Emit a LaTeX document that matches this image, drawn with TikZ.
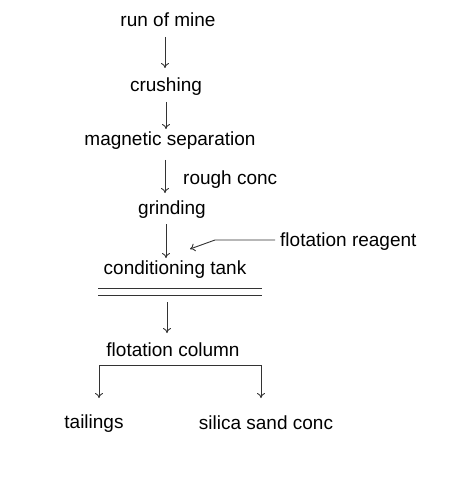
\documentclass[tikz,border=0pt]{standalone}
\usepackage{fontspec}
\setmainfont{Liberation Sans}
\usetikzlibrary{arrows.meta}
\begin{document}
\begin{tikzpicture}[x=1pt,y=-1pt,
  lbl/.style={inner sep=0pt,font=\fontsize{19}{22}\selectfont,text=black},
  flow/.style={draw=black!80,line width=0.9pt,-{To[length=5pt,width=8pt]}},
  plain/.style={draw=black!80,line width=0.9pt}]
\useasboundingbox (0,0) rectangle (449,486);
\node[lbl] (rom) at (168,20) {run of mine};
\node[lbl] (cru) at (166,87) {crushing};
\node[lbl] (mag) at (170,141) {magnetic separation};
\node[lbl,anchor=west] (rc) at (183,180) {rough conc};
\node[lbl] (gri) at (172,210) {grinding};
\node[lbl,anchor=west] (fr) at (280,242) {flotation reagent};
\node[lbl] (ct) at (175,270) {conditioning tank};
\node[lbl] (fc) at (173,350) {flotation column};
\node[lbl] (tai) at (94,424) {tailings};
\node[lbl] (ssc) at (266,423) {silica sand conc};
\coordinate (a1) at (165,37); \coordinate (a2) at (165,68);
\coordinate (b1) at (166,102); \coordinate (b2) at (166,129);
\coordinate (c1) at (165,160); \coordinate (c2) at (165,193);
\coordinate (d1) at (166,224); \coordinate (d2) at (166,258);
\coordinate (e1) at (275,240); \coordinate (e2) at (215,240); \coordinate (e3) at (190,249);
\coordinate (e4) at (167,302); \coordinate (e5) at (167,333);
\coordinate (h1) at (99,365); \coordinate (h2) at (261,365);
\coordinate (t1) at (99,398); \coordinate (t2) at (261,398);
\draw[flow] (a1) -- (a2);
\draw[flow] (b1) -- (b2);
\draw[flow] (c1) -- (c2);
\draw[flow] (d1) -- (d2);
\draw[flow] (e1) -- (e2) -- (e3);
\draw[plain] (98,288) -- (262,288);
\draw[plain] (98,295) -- (262,295);
\draw[flow] (e4) -- (e5);
\draw[plain] (h1) -- (h2);
\draw[flow] (h1) -- (t1);
\draw[flow] (h2) -- (t2);
\end{tikzpicture}
\end{document}
